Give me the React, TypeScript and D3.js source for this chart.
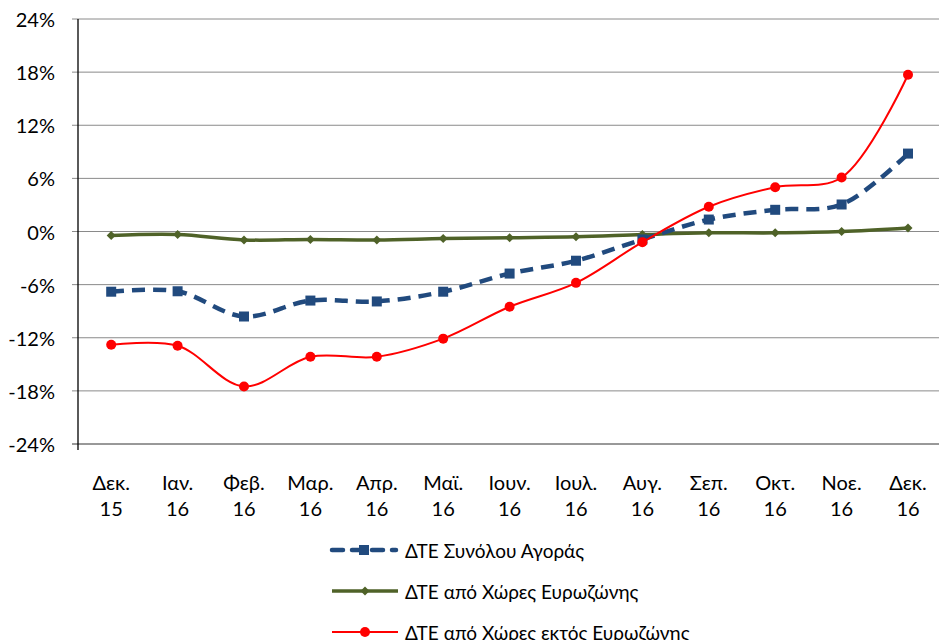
import * as d3 from 'd3';

const months = ['Δεκ.', 'Ιαν.', 'Φεβ.', 'Μαρ.', 'Απρ.', 'Μαϊ.', 'Ιουν.', 'Ιουλ.', 'Αυγ.', 'Σεπ.', 'Οκτ.', 'Νοε.', 'Δεκ.'];
const years = ['15', '16', '16', '16', '16', '16', '16', '16', '16', '16', '16', '16', '16'];
const yTicks = [-24, -18, -12, -6, 0, 6, 12, 18, 24];

const totalMarket = [-6.8, -6.75, -9.6, -7.8, -7.9, -6.8, -4.75, -3.3, -0.9, 1.35, 2.45, 3.05, 8.8];
const euroArea = [-0.45, -0.35, -0.95, -0.9, -0.95, -0.8, -0.7, -0.6, -0.35, -0.15, -0.15, 0, 0.4];
const nonEuroArea = [-12.8, -12.9, -17.5, -14.15, -14.15, -12.1, -8.5, -5.8, -1.2, 2.8, 5.0, 6.1, 17.7];

const seriesNames = ['ΔΤΕ Συνόλου Αγοράς', 'ΔΤΕ από Χώρες Ευρωζώνης', 'ΔΤΕ από Χώρες εκτός Ευρωζώνης'];

const BLUE = '#214a7e';
const GREEN = '#4f6228';
const RED = '#ff0000';
const FONT = 'Lato, sans-serif';

export default function App() {
  const W = 939;
  const H = 640;
  const left = 78;
  const top = 19;
  const bottom = 444;
  const band = 66.4;

  const keys = months.map((_, i) => String(i));
  const x = d3.scaleBand().domain(keys).range([left, left + band * months.length]);
  const cx = (i: number) => x(String(i))! + x.bandwidth() / 2;
  const y = d3.scaleLinear().domain([-24, 24]).range([bottom, top]);

  const line = d3
    .line<number>()
    .x((_, i) => cx(i))
    .y((d) => y(d))
    .curve(d3.curveCatmullRom.alpha(0.5));

  const diamond = (px: number, py: number, s: number) =>
    `M${px},${py - s}L${px + s},${py}L${px},${py + s}L${px - s},${py}Z`;

  return (
    <svg width={W} height={H} style={{ position: 'absolute', left: 0, top: 0, background: '#fff' }}>
      {/* gridlines and y labels */}
      {yTicks.map((t) => (
        <g key={t}>
          <line x1={left - 6} x2={W} y1={y(t)} y2={y(t)} stroke={t === -24 ? '#333' : '#8a8a8a'} strokeWidth={1} />
          <text x={55} y={y(t)} textAnchor="end" dominantBaseline="central" fontSize={20} fontFamily={FONT} fill="#000">
            {t}%
          </text>
        </g>
      ))}
      <line x1={left} x2={left} y1={top} y2={bottom + 6} stroke="#000" strokeWidth={1.3} />

      {/* x labels */}
      {months.map((m, i) => (
        <g key={i}>
          <text x={cx(i)} y={490} textAnchor="middle" fontSize={20} fontFamily={FONT} fill="#000">
            {m}
          </text>
          <text x={cx(i)} y={516} textAnchor="middle" fontSize={20} fontFamily={FONT} fill="#000">
            {years[i]}
          </text>
        </g>
      ))}

      {/* green */}
      <path d={line(euroArea)!} fill="none" stroke={GREEN} strokeWidth={3.5} />
      {euroArea.map((v, i) => (
        <path key={i} d={diamond(cx(i), y(v), 4.5)} fill={GREEN} />
      ))}

      {/* blue dashed */}
      <path d={line(totalMarket)!} fill="none" stroke={BLUE} strokeWidth={4.5} strokeDasharray="13 8" />
      {totalMarket.map((v, i) => (
        <rect key={i} x={cx(i) - 5} y={y(v) - 5} width={10} height={10} fill={BLUE} />
      ))}

      {/* red */}
      <path d={line(nonEuroArea)!} fill="none" stroke={RED} strokeWidth={2} />
      {nonEuroArea.map((v, i) => (
        <circle key={i} cx={cx(i)} cy={y(v)} r={5} fill={RED} />
      ))}

      {/* legend */}
      <g>
        <line x1={332} x2={396} y1={550} y2={550} stroke={BLUE} strokeWidth={4.5} strokeDasharray="11 9" strokeLinecap="round" />
        <rect x={359} y={545} width={10} height={10} fill={BLUE} />
        <text x={405} y={550} dominantBaseline="central" fontSize={19} fontFamily={FONT} fill="#000">
          {seriesNames[0]}
        </text>

        <line x1={332} x2={398} y1={591} y2={591} stroke={GREEN} strokeWidth={3.5} />
        <path d={diamond(365, 591, 4.5)} fill={GREEN} />
        <text x={405} y={591} dominantBaseline="central" fontSize={19} fontFamily={FONT} fill="#000">
          {seriesNames[1]}
        </text>

        <line x1={332} x2={398} y1={632} y2={632} stroke={RED} strokeWidth={2} />
        <circle cx={365} cy={632} r={5} fill={RED} />
        <text x={405} y={632} dominantBaseline="central" fontSize={19} fontFamily={FONT} fill="#000">
          {seriesNames[2]}
        </text>
      </g>
    </svg>
  );
}
